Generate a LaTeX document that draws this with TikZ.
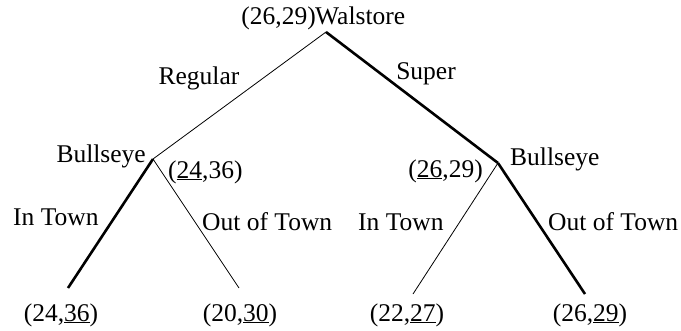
\documentclass[tikz,border=0pt]{standalone}
\usepackage{fontspec}
\setmainfont{Liberation Serif}
\begin{document}
\begin{tikzpicture}[x=1pt,y=-1pt,
  lbl/.style={inner sep=0pt,font=\fontsize{25.5}{28}\selectfont},
  thinedge/.style={line width=0.8pt},
  thickedge/.style={line width=2.6pt}]
\useasboundingbox (0,0) rectangle (681,330);
% vertices
\coordinate (R) at (326,32);
\coordinate (L) at (153,159);
\coordinate (Rt) at (498,163);
\coordinate (LL) at (68,288);
\coordinate (LR) at (239,288);
\coordinate (RL) at (413,294);
\coordinate (RR) at (585,294);
% edges
\draw[thinedge] (R) -- (L);
\draw[thickedge] (R) -- (Rt);
\draw[thickedge] (L) -- (LL);
\draw[thinedge] (L) -- (LR);
\draw[thinedge] (Rt) -- (RL);
\draw[thickedge] (Rt) -- (RR);
% labels
\node[lbl,anchor=base east] (rootpay) at (316,24) {(26,29)};
\node[lbl,anchor=base west] (walstore) at (315,24) {Walstore};
\node[lbl,anchor=base] (regular) at (199,84) {Regular};
\node[lbl,anchor=base] (super) at (426,79) {Super};
\node[lbl,anchor=base east] (bullL) at (146,162) {Bullseye};
\node[lbl,anchor=base west] (payL) at (168,178) {(\underline{24},36)};
\node[lbl,anchor=base west] (bullR) at (510,165) {Bullseye};
\node[lbl,anchor=base east] (payR) at (483,177) {(\underline{26},29)};
\node[lbl,anchor=base west] (inL) at (13,225) {In Town};
\node[lbl,anchor=base west] (outL) at (202,230) {Out of Town};
\node[lbl,anchor=base west] (inR) at (358,230) {In Town};
\node[lbl,anchor=base west] (outR) at (548,230) {Out of Town};
\node[lbl,anchor=base] (leaf1) at (61,321) {(24,\underline{36})};
\node[lbl,anchor=base] (leaf2) at (240,321) {(20,\underline{30})};
\node[lbl,anchor=base] (leaf3) at (407,321) {(22,\underline{27})};
\node[lbl,anchor=base] (leaf4) at (590,321) {(26,\underline{29})};
\end{tikzpicture}
\end{document}
